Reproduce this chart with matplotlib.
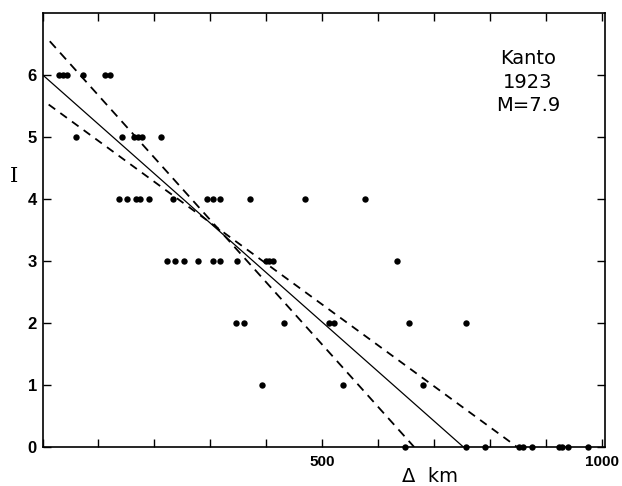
import matplotlib
matplotlib.use("Agg")
import matplotlib.pyplot as plt
import numpy as np

# observed intensities I versus epicentral distance (km)
dist_6 = [30, 37, 43, 73, 111, 120]
dist_5 = [60, 142, 164, 171, 177, 212]
dist_4 = [136, 151, 167, 175, 190, 233, 294, 305, 317, 370, 469, 576]
dist_3 = [222, 237, 252, 278, 305, 318, 347, 399, 405, 411, 634]
dist_2 = [345, 360, 431, 512, 521, 654, 757]
dist_1 = [392, 537, 679]
dist_0 = [647, 757, 791, 852, 859, 874, 922, 929, 938, 975]

# fitted attenuation line and its bounds (endpoints in km, I)
fit_x = [0, 752]
fit_i = [6.0, 0.0]
upper_x = [13, 664]
upper_i = [6.54, 0.0]
lower_x = [11, 848]
lower_i = [5.52, 0.0]

x_ticks = np.arange(0, 1001, 100)
x_labels = ["" if t not in (500, 1000) else str(t) for t in x_ticks]
y_ticks = [0, 1, 2, 3, 4, 5, 6]

W, H = 622, 486
fig = plt.figure(figsize=(W / 100, H / 100), dpi=100)
fig.patch.set_facecolor("white")
ax = fig.add_axes([42.5 / W, 1 - 447 / H, (605 - 42.5) / W, (447 - 12.7) / H])

groups = [(dist_6, 6), (dist_5, 5), (dist_4, 4), (dist_3, 3),
          (dist_2, 2), (dist_1, 1), (dist_0, 0)]
for xs, level in groups:
    ax.plot(xs, [level] * len(xs), "o", color="black", markersize=4.6,
            markeredgewidth=0, clip_on=False, zorder=3)

ax.plot(fit_x, fit_i, color="black", linewidth=0.9)
ax.plot(upper_x, upper_i, color="black", linewidth=1.3, dashes=(5, 3.5))
ax.plot(lower_x, lower_i, color="black", linewidth=1.3, dashes=(4.5, 3.5))

ax.set_xlim(0, 1005)
ax.set_ylim(0, 7)
ax.set_xticks(x_ticks)
ax.set_xticklabels(x_labels, fontsize=11, fontweight="bold", family="Liberation Sans")
ax.set_yticks(y_ticks)
ax.set_yticklabels([str(t) for t in y_ticks], fontsize=12, fontweight="bold",
                   family="Liberation Sans")
ax.tick_params(direction="in", length=6, width=1.0, top=True, right=True, pad=4)
ax.tick_params(axis="x", pad=6)
for s in ax.spines.values():
    s.set_linewidth(1.2)

fig.text(14 / W, 1 - 176 / H, "I", fontsize=15, family="DejaVu Serif",
         ha="center", va="center")
fig.text(430 / W, 1 - 476 / H, "\u0394  km", fontsize=14, family="DejaVu Sans",
         ha="center", va="center")
ax.text(867, 5.88, "Kanto\n1923\nM=7.9", fontsize=14, family="DejaVu Sans",
        ha="center", va="center", linespacing=1.3)

fig.savefig("out.png", dpi=100, facecolor="white")
